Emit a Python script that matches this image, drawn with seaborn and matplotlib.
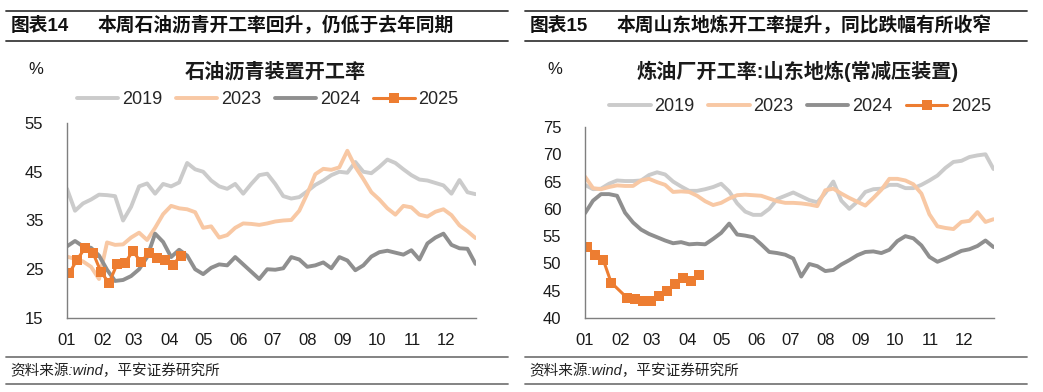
import matplotlib
matplotlib.use("Agg")
import matplotlib.pyplot as plt
from matplotlib.lines import Line2D
import numpy as np
import seaborn as sns

# ---- data (weekly operating rates, %) ----
months = ["01", "02", "03", "04", "05", "06", "07", "08", "09", "10", "11", "12"]
month_start_days = [0, 31, 59, 90, 120, 151, 181, 212, 243, 273, 304, 334]
years = ["2019", "2023", "2024", "2025"]

asphalt_2019 = [41.5, 37.0, 38.5, 39.3, 40.3, 40.2, 40.0, 35.0, 37.8, 42.0, 42.6, 40.5, 42.5,
                42.0, 42.8, 46.8, 45.5, 45.0, 43.2, 42.0, 41.5, 42.5, 40.5, 42.5, 44.3, 44.6,
                42.5, 40.0, 39.5, 39.8, 41.0, 42.3, 43.2, 44.3, 45.0, 44.8, 47.0, 45.0, 44.7,
                46.0, 47.5, 46.8, 45.5, 44.3, 43.4, 43.2, 42.7, 42.2, 40.5, 43.3, 40.8, 40.4]
asphalt_2023 = [27.6, 27.1, 26.6, 25.5, 23.0, 30.5, 30.0, 30.1, 31.5, 32.5, 31.0, 33.5, 36.3,
                38.0, 37.5, 37.3, 36.7, 33.5, 33.8, 31.5, 32.0, 33.5, 34.4, 34.3, 34.1, 34.4,
                34.8, 35.0, 35.1, 37.0, 40.5, 44.5, 45.6, 45.4, 45.9, 49.3, 46.0, 43.5, 40.8,
                39.3, 37.5, 36.2, 38.0, 37.7, 36.2, 35.8, 36.8, 37.3, 36.1, 34.0, 32.8, 31.4]
asphalt_2024 = [29.7, 30.8, 29.7, 29.4, 27.8, 24.9, 22.6, 22.8, 23.6, 25.0, 27.5, 32.3, 30.6,
                27.5, 29.0, 27.8, 25.0, 24.0, 25.3, 26.0, 25.8, 27.5, 26.0, 24.5, 23.0, 25.0,
                24.9, 25.2, 27.5, 27.0, 25.5, 25.8, 26.4, 25.2, 27.5, 26.8, 24.8, 25.8, 27.6,
                28.5, 28.8, 28.4, 28.0, 28.9, 27.0, 30.3, 31.5, 32.3, 30.0, 29.3, 29.2, 26.1]
asphalt_2025 = [24.2, 27.0, 29.4, 28.3, 24.4, 22.2, 26.0, 26.3, 28.7, 26.5, 28.3, 27.3, 26.8,
                25.8, 27.8]
asphalt_2025_weeks = [0, 1, 2, 3, 4, 5, 6, 7, 8, 9, 10, 11, 12, 13, 14]

refinery_2019 = [64.4, 63.6, 63.7, 64.6, 65.2, 65.1, 65.1, 65.2, 66.2, 66.7, 66.3, 65.0, 64.1,
                 63.3, 63.3, 63.6, 64.0, 64.6, 63.2, 61.0, 59.5, 58.9, 58.9, 60.0, 61.8, 62.4,
                 63.0, 62.3, 61.6, 61.2, 62.9, 65.0, 61.5, 60.0, 61.3, 63.1, 63.6, 63.7, 64.4,
                 64.4, 63.8, 63.8, 64.4, 65.2, 66.1, 67.5, 68.6, 68.8, 69.5, 69.8, 70.0, 67.3]
refinery_2023 = [65.9, 63.8, 63.6, 64.0, 64.3, 64.2, 64.2, 65.2, 65.5, 64.9, 64.4, 63.1, 63.2,
                 63.1, 62.4, 61.4, 60.7, 61.1, 61.9, 62.5, 62.6, 62.5, 62.4, 61.9, 61.4, 61.1,
                 61.1, 61.0, 60.8, 60.5, 63.4, 63.7, 62.8, 62.0, 61.3, 60.6, 62.0, 63.5, 65.5,
                 65.5, 65.2, 64.5, 62.8, 59.0, 56.8, 56.5, 56.3, 57.6, 57.8, 59.4, 57.6, 58.1]
refinery_2024 = [59.2, 61.5, 62.7, 62.7, 62.4, 59.3, 57.5, 56.2, 55.4, 54.8, 54.2, 53.7, 53.9,
                 53.5, 53.6, 53.5, 54.5, 55.6, 57.3, 55.3, 55.1, 54.8, 53.5, 52.1, 51.9, 51.6,
                 50.9, 47.6, 49.9, 49.5, 48.6, 48.8, 49.8, 50.6, 51.5, 52.1, 52.2, 51.9, 52.5,
                 54.1, 55.0, 54.6, 53.3, 51.2, 50.3, 50.9, 51.6, 52.3, 52.6, 53.2, 54.2, 53.0]
refinery_2025 = [53.1, 51.5, 50.7, 46.5, 43.7, 43.5, 43.2, 43.2, 44.0, 45.0, 46.2, 47.3, 46.7,
                 47.8]
refinery_2025_weeks = [0, 1, 2, 3, 5, 6, 7, 8, 9, 10, 11, 12, 13, 14]

colors = {"2019": "#cbcbcb", "2023": "#f8c8a4", "2024": "#8f8f8f", "2025": "#ed7d31"}

sns.set_style("white")
plt.rcParams["font.family"] = ["Liberation Sans", "Noto Sans CJK SC"]

W, H = 1043, 392
fig = plt.figure(figsize=(W / 100, H / 100), dpi=100)


def fx(px):
    return px / W


def fy(py):
    return 1 - py / H


def draw_panel(ax, hist, cur, cur_weeks, ylim, yticks, title, title_xy, pct_xy, leg_xy):
    hist_days = np.arange(len(hist[0])) * 7.05
    for yr, vals in zip(years[:3], hist):
        sns.lineplot(x=hist_days, y=vals, ax=ax, color=colors[yr], lw=2.8, label=yr)
    cur_days = np.array(cur_weeks) * 7 + 2
    sns.lineplot(x=cur_days, y=cur, ax=ax, color=colors["2025"], lw=2.2, marker="s",
                 markersize=6.5, markeredgewidth=0, label="2025")
    ax.set_xlim(0, 360)
    ax.set_ylim(*ylim)
    ax.set_yticks(yticks)
    ax.set_xticks(month_start_days)
    ax.set_xticklabels(months)
    ax.set_xlabel("")
    ax.set_ylabel("")
    for s in ["top", "right"]:
        ax.spines[s].set_visible(False)
    for s in ["left", "bottom"]:
        ax.spines[s].set_color("#7f7f7f")
        ax.spines[s].set_linewidth(1.0)
    ax.tick_params(axis="both", direction="in", length=4, width=1, color="#7f7f7f",
                   labelsize=12, labelcolor="#1a1a1a")
    ax.tick_params(axis="y", pad=17)
    ax.tick_params(axis="x", pad=11)
    ax.legend(loc="center", bbox_to_anchor=leg_xy, ncol=4, frameon=False, fontsize=13,
              handlelength=2.3, handletextpad=0.2, columnspacing=0.75, borderpad=0)
    fig.text(fx(title_xy[0]), fy(title_xy[1]), title, ha="center", va="center",
             fontsize=14.5, fontweight="bold", color="#1a1a1a")
    fig.text(fx(pct_xy[0]), fy(pct_xy[1]), "%", ha="center", va="center", fontsize=12,
             color="#1a1a1a")


def draw_frame(x0, x1, label, headline):
    for py, c, lw in [(10.5, "#3a3a3a", 1.3), (40.5, "#3a3a3a", 1.3),
                      (357, "#7a7a7a", 1.3), (384, "#7a7a7a", 1.3)]:
        fig.add_artist(Line2D([fx(x0), fx(x1)], [fy(py), fy(py)], color=c, lw=lw))
    fig.text(fx(x0 + 5), fy(26), label, ha="left", va="center", fontsize=13.5,
             fontweight="bold", color="#111111")
    fig.text(fx(x0 + 92), fy(26), headline, ha="left", va="center", fontsize=13.5,
             fontweight="bold", color="#111111")
    fig.text(fx(x0 + 4), fy(370.5), "资料来源:wind，平安证券研究所", ha="left", va="center",
             fontsize=10.5, style="italic", color="#222222")


ax1 = fig.add_axes([fx(67), fy(318), fx(409), (318 - 123) / H])
draw_panel(ax1, [asphalt_2019, asphalt_2023, asphalt_2024], asphalt_2025, asphalt_2025_weeks,
           (15, 55), [15, 25, 35, 45, 55], "石油沥青装置开工率", (275, 72), (36, 70),
           (0.491, 1.118))
draw_frame(6, 508, "图表14", "本周石油沥青开工率回升，仍低于去年同期")

ax2 = fig.add_axes([fx(585), fy(318), fx(409), (318 - 127) / H])
draw_panel(ax2, [refinery_2019, refinery_2023, refinery_2024], refinery_2025,
           refinery_2025_weeks, (40, 75), [40, 45, 50, 55, 60, 65, 70, 75],
           "炼油厂开工率:山东地炼(常减压装置)", (798, 71), (555, 70), (0.526, 1.105))
draw_frame(525, 1027, "图表15", "本周山东地炼开工率提升，同比跌幅有所收窄")

fig.savefig("out.png", dpi=100)
